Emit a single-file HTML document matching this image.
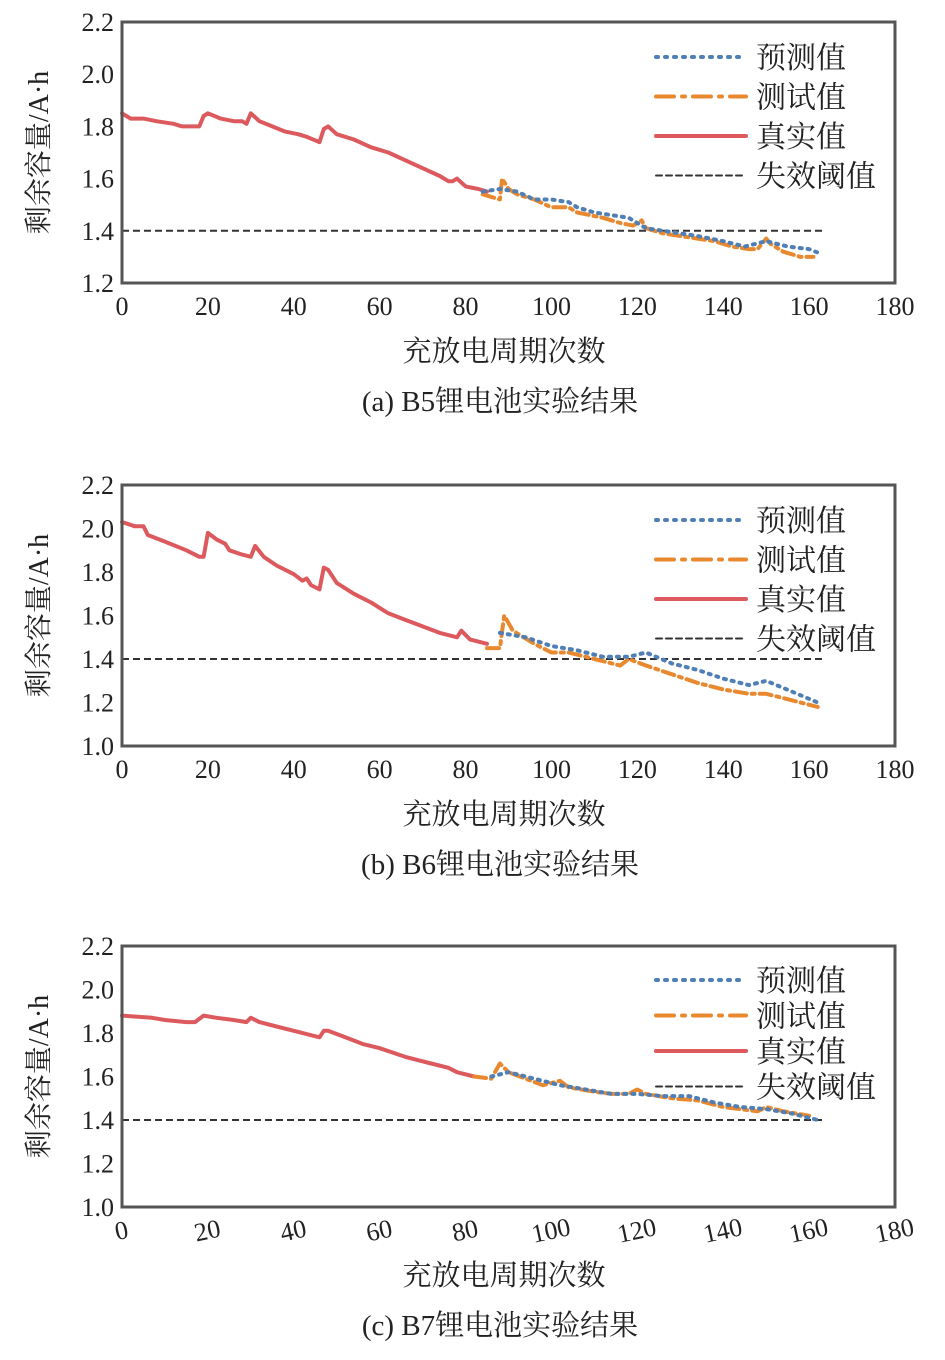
<!DOCTYPE html>
<html><head><meta charset="utf-8">
<style>
html,body{margin:0;padding:0;background:#fff;}
svg{display:block;}
text{font-family:"Liberation Serif","Noto Serif CJK SC",serif;fill:#222;}
</style></head>
<body>
<svg id="fig" width="945" height="1360" viewBox="0 0 945 1360" xmlns="http://www.w3.org/2000/svg"></svg>
<script>
// ---- data: chart a (B5) ----
const aRealX=[0,2,5,8,12,14,18,19,20,23,26,28,29,30,32,35,38,41,43,46,47,48,50,54,58,62,66,70,74,76,77,78,80,83,85];
const aRealY=[1.85,1.83,1.83,1.82,1.81,1.80,1.80,1.84,1.85,1.83,1.82,1.82,1.81,1.85,1.82,1.80,1.78,1.77,1.76,1.74,1.79,1.80,1.77,1.75,1.72,1.70,1.67,1.64,1.61,1.59,1.59,1.60,1.57,1.56,1.55];
const aTestX=[84,86,88,88.5,90,92,96,100,104,106,112,116,119,121,122,126,130,134,138,142,146,148,150,151,154,158,161];
const aTestY=[1.54,1.53,1.52,1.60,1.56,1.54,1.52,1.49,1.49,1.47,1.45,1.43,1.42,1.44,1.41,1.39,1.38,1.37,1.36,1.34,1.33,1.33,1.37,1.35,1.32,1.30,1.30];
const aPredX=[84,88,92,96,100,104,106,110,114,118,122,126,130,134,140,145,150,155,160,163];
const aPredY=[1.55,1.56,1.55,1.52,1.52,1.51,1.49,1.47,1.46,1.45,1.41,1.40,1.39,1.38,1.36,1.34,1.36,1.34,1.33,1.31];
// ---- data: chart b (B6) ----
const bRealX=[0,3,5,6,10,15,18,19,20,22,24,25,28,30,31,33,36,40,42,43,44,46,47,48,50,54,58,62,66,70,74,78,79,81,85];
const bRealY=[2.03,2.01,2.01,1.97,1.94,1.90,1.87,1.87,1.98,1.95,1.93,1.90,1.88,1.87,1.92,1.87,1.83,1.79,1.76,1.77,1.74,1.72,1.82,1.81,1.75,1.70,1.66,1.61,1.58,1.55,1.52,1.50,1.53,1.49,1.47];
const bTestX=[85,88,89,91,96,100,104,110,116,118,122,128,134,140,146,150,154,158,162];
const bTestY=[1.45,1.45,1.60,1.53,1.47,1.43,1.43,1.40,1.37,1.40,1.37,1.33,1.29,1.26,1.24,1.24,1.22,1.20,1.18];
const bPredX=[88,94,100,106,112,118,122,128,134,140,146,150,156,162];
const bPredY=[1.52,1.50,1.46,1.44,1.41,1.41,1.43,1.38,1.35,1.31,1.28,1.30,1.25,1.20];
// ---- data: chart c (B7) ----
const cRealX=[0,7,10,15,17,19,22,26,29,30,32,36,40,44,46,47,48,52,56,60,66,72,76,78,82];
const cRealY=[1.88,1.87,1.86,1.85,1.85,1.88,1.87,1.86,1.85,1.87,1.85,1.83,1.81,1.79,1.78,1.81,1.81,1.78,1.75,1.73,1.69,1.66,1.64,1.62,1.60];
const cTestX=[82,86,88,90,94,98,102,104,110,114,118,120,122,128,134,140,144,148,150,154,160];
const cTestY=[1.60,1.59,1.66,1.62,1.59,1.56,1.58,1.55,1.53,1.52,1.52,1.54,1.52,1.50,1.49,1.46,1.45,1.44,1.46,1.44,1.42];
const cPredX=[86,90,96,102,108,114,120,126,132,138,144,150,156,162];
const cPredY=[1.60,1.62,1.59,1.56,1.54,1.52,1.52,1.51,1.51,1.48,1.46,1.45,1.43,1.40];
// ---- ticks ----
const xTicks=[0,20,40,60,80,100,120,140,160,180];
const yTicksA=[1.2,1.4,1.6,1.8,2.0,2.2];
const yTicksB=[1.0,1.2,1.4,1.6,1.8,2.0,2.2];
const threshold=1.4;
const legendLabels=["预测值","测试值","真实值","失效阈值"];

const NS="http://www.w3.org/2000/svg";
const svg=document.getElementById('fig');
function mk(tag,attrs,parent,txt){const e=document.createElementNS(NS,tag);for(const k in attrs)e.setAttribute(k,attrs[k]);if(txt!==undefined)e.textContent=txt;(parent||svg).appendChild(e);return e;}

function chart(cfg){
  const g=mk('g',{});
  
  
  const L=122,R=895,T=cfg.top,B=cfg.top+261;
  const ymin=cfg.yt[0],ymax=cfg.yt[cfg.yt.length-1];
  const sx=v=>L+v*(R-L)/180;
  const sy=v=>B-(v-ymin)*(B-T)/(ymax-ymin);
  cfg.yt.forEach(t=>{
    const tx=mk('text',{x:L-8,y:sy(t)+9,'text-anchor':'end','font-size':26},g,t.toFixed(1));
    
    
  });
  xTicks.forEach(t=>{
    const attrs={x:sx(t),y:B+32,'text-anchor':'middle','font-size':26};
    if(cfg.rot) attrs.transform=`rotate(-12 ${sx(t)} ${B+26})`;
    const tx=mk('text',attrs,g,String(t));
    
    
  });
  const th=mk('line',{x1:sx(0),x2:sx(163),y1:sy(threshold),y2:sy(threshold),stroke:'#333','stroke-width':2,'stroke-dasharray':'7,4'},g);
  
  
  function line(xs,ys,color,dash,w,name){
    const d=xs.map((x,i)=>(i?'L':'M')+sx(x).toFixed(1)+','+sy(ys[i]).toFixed(1)).join(' ');
    const p=mk('path',{d:d,fill:'none',stroke:color,'stroke-width':w,'stroke-dasharray':dash,'stroke-linecap':'round','stroke-linejoin':'round'},g);
    
    
  }
  line(cfg.rx,cfg.ry,'#dc5a5e','',4,'real-series');
  line(cfg.tx,cfg.ty,'#e8892f','12,5,3,5',4,'test-series');
  line(cfg.px,cfg.py,'#4f7fb5','2,6',4,'predicted-series');
  const fr=mk('rect',{x:L,y:T,width:R-L,height:B-T,fill:'none',stroke:'#555','stroke-width':3},g);
  
  
  const lg=mk('g',{},g);
  
  
  const styles=[['#4f7fb5','2,7',4],['#e8892f','18,8,3,8',4],['#dc5a5e','',4],['#333','6,4',2]];
  legendLabels.forEach((lab,i)=>{
    const y=T+cfg.lg0+i*cfg.lgs;
    const ln=mk('line',{x1:656,x2:746,y1:y,y2:y,stroke:styles[i][0],'stroke-width':styles[i][2],'stroke-dasharray':styles[i][1],'stroke-linecap':'round'},lg);
    
    
    const t=mk('text',{x:756,y:y+11,'font-size':30},lg,lab);
    
    
  });
  const cy=(T+B)/2;
  const yt=mk('text',{x:38,y:cy,'text-anchor':'middle','font-size':28,transform:`rotate(-90 38 ${cy}) translate(0 10)`},g,'剩余容量/A·h');
  
  
  const xt=mk('text',{x:504,y:B+78,'text-anchor':'middle','font-size':29},g,'充放电周期次数');
  
  
  const ct=mk('text',{x:500,y:B+128,'text-anchor':'middle','font-size':29},g,cfg.cap);
  
  
}
chart({id:'b5',top:22,yt:yTicksA,rx:aRealX,ry:aRealY,tx:aTestX,ty:aTestY,px:aPredX,py:aPredY,lg0:35,lgs:39.5,cap:'(a) B5锂电池实验结果'});
chart({id:'b6',top:485,yt:yTicksB,rx:bRealX,ry:bRealY,tx:bTestX,ty:bTestY,px:bPredX,py:bPredY,lg0:35,lgs:39.5,cap:'(b) B6锂电池实验结果'});
chart({id:'b7',top:946,yt:yTicksB,rx:cRealX,ry:cRealY,tx:cTestX,ty:cTestY,px:cPredX,py:cPredY,lg0:34,lgs:35.5,cap:'(c) B7锂电池实验结果',rot:true});
</script>
</body></html>
